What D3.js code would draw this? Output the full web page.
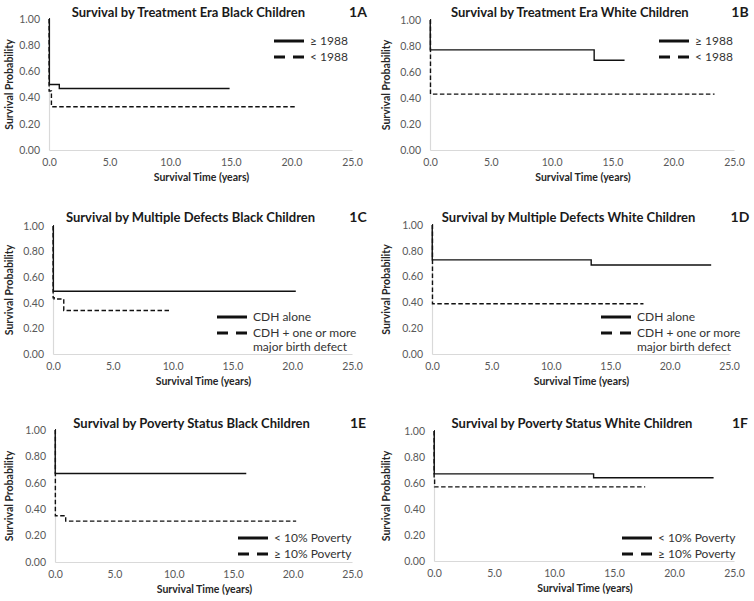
<!DOCTYPE html>
<html>
<head>
<meta charset="utf-8">
<script src="https://cdn.jsdelivr.net/npm/d3@7"></script>
<style>
  body { margin: 0; background: #fff; }
  svg { font-family: Lato, "Open Sans", sans-serif; }
  .title { font-weight: bold; font-size: 13px; fill: #1a1a1a; }
  .tag { font-weight: bold; font-size: 14px; fill: #1a1a1a; }
  .axtitle { font-weight: bold; font-size: 10.5px; fill: #262626; }
  .tick text { font-size: 10.5px; fill: #595959; font-family: Lato, sans-serif; }
  .legend text { font-size: 12px; fill: #333; }
</style>
</head>
<body>
<svg class="chart" width="754" height="601"></svg>
<script>
// x: survival time in years, y: survival probability (Kaplan-Meier steps)
var eraBlackNew   = [[0, 1], [0.03, 0.50], [0.85, 0.47], [14.9, 0.47]];
var eraBlackOld   = [[0, 1], [0.01, 0.45], [0.2, 0.33], [20.3, 0.33]];
var eraWhiteNew   = [[0, 1], [0.02, 0.77], [13.5, 0.69], [16.0, 0.69]];
var eraWhiteOld   = [[0, 1], [0.04, 0.43], [23.4, 0.43]];
var defBlackAlone = [[0, 1], [0.03, 0.49], [20.3, 0.49]];
var defBlackMulti = [[0, 1], [0.01, 0.44], [0.1, 0.43], [0.9, 0.34], [9.8, 0.34]];
var defWhiteAlone = [[0, 1], [0.02, 0.73], [13.4, 0.69], [23.5, 0.69]];
var defWhiteMulti = [[0, 1], [0.04, 0.39], [17.8, 0.39]];
var povBlackLow   = [[0, 1], [0.02, 0.67], [16.1, 0.67]];
var povBlackHigh  = [[0, 1], [0.03, 0.35], [0.9, 0.31], [20.3, 0.31]];
var povWhiteLow   = [[0, 1], [0.02, 0.67], [13.3, 0.64], [23.3, 0.64]];
var povWhiteHigh  = [[0, 1], [0.01, 0.64], [0.05, 0.57], [17.6, 0.57]];

var xTicks = [0, 5, 10, 15, 20, 25];
var yTicks = [0, 0.2, 0.4, 0.6, 0.8, 1.0];

var eraLabels = ["\u2265 1988", "< 1988"];
var defectLabels = ["CDH alone", "CDH + one or more|major birth defect"];
var povertyLabels = ["< 10% Poverty", "\u2265 10% Poverty"];

var panels = [
  { tag: "1A", title: "Survival by Treatment Era Black Children", solid: eraBlackNew, dashed: eraBlackOld, labels: eraLabels,
    box: { x: 49, y: 19, w: 303, h: 131 }, titleY: 12, leg: { x: 274, y: 41 } },
  { tag: "1B", title: "Survival by Treatment Era White Children", solid: eraWhiteNew, dashed: eraWhiteOld, labels: eraLabels,
    box: { x: 430, y: 20, w: 304, h: 130 }, titleY: 12, leg: { x: 659, y: 41 } },
  { tag: "1C", title: "Survival by Multiple Defects Black Children", solid: defBlackAlone, dashed: defBlackMulti, labels: defectLabels,
    box: { x: 53, y: 226, w: 299, h: 128 }, titleY: 217, leg: { x: 217, y: 317 } },
  { tag: "1D", title: "Survival by Multiple Defects White Children", solid: defWhiteAlone, dashed: defWhiteMulti, labels: defectLabels,
    box: { x: 432, y: 225, w: 297, h: 129 }, titleY: 217, leg: { x: 601, y: 317 } },
  { tag: "1E", title: "Survival by Poverty Status Black Children", solid: povBlackLow, dashed: povBlackHigh, labels: povertyLabels,
    box: { x: 55, y: 430, w: 297, h: 132 }, titleY: 423, leg: { x: 238, y: 538 } },
  { tag: "1F", title: "Survival by Poverty Status White Children", solid: povWhiteLow, dashed: povWhiteHigh, labels: povertyLabels,
    box: { x: 434, y: 431, w: 300, h: 130 }, titleY: 423, leg: { x: 622, y: 538 } }
];

var svg = d3.select(".chart");

panels.forEach(function (p, i) {
  var b = p.box;
  var col = i % 2;
  var g = svg.append("g");

  var x = d3.scaleLinear().domain([0, 25]).range([b.x, b.x + b.w]);
  var y = d3.scaleLinear().domain([0, 1]).range([b.y + b.h, b.y]);

  var xAxis = g.append("g")
    .attr("transform", "translate(0," + (b.y + b.h) + ")")
    .call(d3.axisBottom(x).tickValues(xTicks).tickFormat(d3.format(".1f")).tickSize(0).tickPadding(9));
  var yAxis = g.append("g")
    .attr("transform", "translate(" + b.x + ",0)")
    .call(d3.axisLeft(y).tickValues(yTicks).tickFormat(d3.format(".2f")).tickSize(0).tickPadding(9));
  [xAxis, yAxis].forEach(function (a) {
    a.select(".domain").attr("stroke", "#d9d9d9").attr("stroke-width", 1.2);
  });

  // title and panel tag
  g.append("text").attr("class", "title")
    .attr("x", b.x + b.w * 0.46).attr("y", p.titleY + 5)
    .attr("text-anchor", "middle").text(p.title);
  g.append("text").attr("class", "tag")
    .attr("x", col === 0 ? 358 : 740).attr("y", p.titleY + 5)
    .attr("text-anchor", "middle").text(p.tag);

  // axis titles
  g.append("text").attr("class", "axtitle")
    .attr("x", b.x + b.w / 2 + 1).attr("y", b.y + b.h + 31)
    .attr("text-anchor", "middle").text("Survival Time (years)");
  g.append("text").attr("class", "axtitle")
    .attr("transform", "translate(" + (col === 0 ? 13 : 390) + "," + (b.y + b.h / 2) + ") rotate(-90)")
    .attr("text-anchor", "middle").text("Survival Probability");

  var line = d3.line()
    .x(function (d) { return x(d[0]); })
    .y(function (d) { return y(d[1]); })
    .curve(d3.curveStepAfter);

  g.append("path").datum(p.dashed)
    .attr("d", line).attr("fill", "none")
    .attr("stroke", "#111").attr("stroke-width", 1.4)
    .attr("stroke-dasharray", "4.5,2.5");
  g.append("path").datum(p.solid)
    .attr("d", line).attr("fill", "none")
    .attr("stroke", "#111").attr("stroke-width", 1.4);

  // legend
  var leg = g.append("g").attr("class", "legend")
    .attr("transform", "translate(" + p.leg.x + "," + p.leg.y + ")");
  leg.append("line").attr("x1", 0).attr("x2", 30).attr("y1", 0).attr("y2", 0)
    .attr("stroke", "#111").attr("stroke-width", 3);
  leg.append("line").attr("x1", 0).attr("x2", 30).attr("y1", 16).attr("y2", 16)
    .attr("stroke", "#111").attr("stroke-width", 3).attr("stroke-dasharray", "11,8");
  p.labels.forEach(function (lab, k) {
    lab.split("|").forEach(function (part, j) {
      leg.append("text")
        .attr("x", 36).attr("y", k * 16 + j * 14 + 4)
        .text(part);
    });
  });
});
</script>
</body>
</html>
